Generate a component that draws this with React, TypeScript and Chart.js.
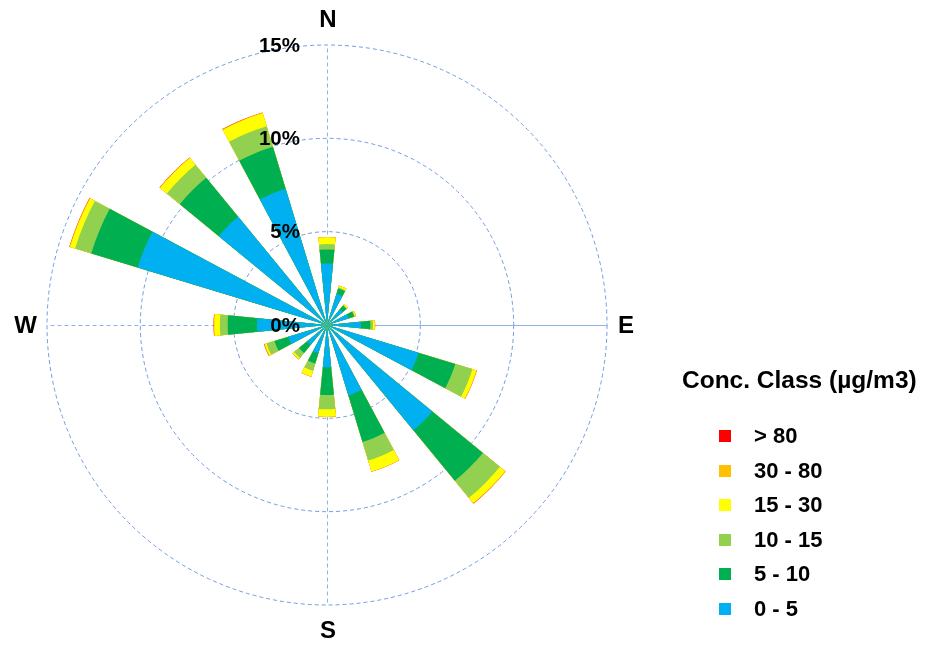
import { useEffect, useRef } from 'react';
import { Chart, registerables } from 'chart.js';

Chart.register(...registerables);

// Wind directions (16 sectors, clockwise from North)
const directions = ['N', 'NNE', 'NE', 'ENE', 'E', 'ESE', 'SE', 'SSE', 'S', 'SSW', 'SW', 'WSW', 'W', 'WNW', 'NW', 'NNW'];

// Frequency (%) per concentration class and direction
const conc0to5 = [3.30, 1.75, 1.10, 1.22, 1.82, 5.13, 7.30, 3.94, 2.27, 1.58, 1.39, 2.17, 3.75, 10.60, 7.50, 7.63];
const conc5to10 = [0.75, 0.30, 0.25, 0.30, 0.50, 2.05, 3.50, 2.61, 1.48, 0.58, 0.55, 0.77, 1.57, 2.60, 2.70, 2.35];
const conc10to15 = [0.29, 0.05, 0.03, 0.04, 0.14, 0.96, 1.18, 1.04, 0.77, 0.41, 0.34, 0.45, 0.42, 0.90, 0.90, 1.15];
const conc15to30 = [0.36, 0.10, 0.07, 0.06, 0.10, 0.22, 0.36, 0.61, 0.39, 0.31, 0.09, 0.09, 0.29, 0.28, 0.47, 0.72];
const conc30to80 = [0.02, 0.01, 0.01, 0.01, 0.02, 0.03, 0.03, 0.02, 0.02, 0.02, 0.02, 0.04, 0.04, 0.04, 0.03, 0.04];
const concAbove80 = [0.00, 0.00, 0.00, 0.00, 0.00, 0.00, 0.01, 0.00, 0.00, 0.00, 0.00, 0.01, 0.01, 0.01, 0.01, 0.01];

const classLabels = ['0 - 5', '5 - 10', '10 - 15', '15 - 30', '30 - 80', '> 80'];
const classColors = ['#00B0F0', '#00B050', '#92D050', '#FFFF00', '#FFC000', '#FF0000'];
const classSeries = [conc0to5, conc5to10, conc10to15, conc15to30, conc30to80, concAbove80];

// Radial tick values (%) and compass labels
const radialTicks = [0, 5, 10, 15];
const compassLabels = ['N', 'E', 'S', 'W'];
const legendTitle = 'Conc. Class (µg/m3)';

const FONT = '"Liberation Sans", Arial, sans-serif';
const GRID_COLOR = '#6F9BE0';
const AXIS_COLOR = '#8FB2EA';

// Each direction is followed by an empty gap sector so the wedges are half-width.
const sectorLabels = directions.flatMap((d) => [d, '']);

function cumulative(upTo: number): number[] {
  return directions.map((_, i) => {
    let s = 0;
    for (let k = 0; k <= upTo; k++) s += classSeries[k][i];
    return s;
  });
}

const roseDecor = {
  id: 'roseDecor',
  beforeDatasetsDraw(chart: any) {
    const s = chart.scales.r;
    const ctx = chart.ctx as CanvasRenderingContext2D;
    const R = s.getDistanceFromCenterForValue(s.max);
    ctx.save();
    ctx.strokeStyle = AXIS_COLOR;
    ctx.lineWidth = 1;
    compassLabels.forEach((_, i) => {
      const a = -Math.PI / 2 + (i * Math.PI) / 2;
      ctx.setLineDash(i === 1 ? [] : [4, 3]);
      ctx.beginPath();
      ctx.moveTo(s.xCenter + 0.5, s.yCenter + 0.5);
      ctx.lineTo(s.xCenter + 0.5 + R * Math.cos(a), s.yCenter + 0.5 + R * Math.sin(a));
      ctx.stroke();
    });
    ctx.restore();
  },
  afterDatasetsDraw(chart: any) {
    const s = chart.scales.r;
    const ctx = chart.ctx as CanvasRenderingContext2D;
    const R = s.getDistanceFromCenterForValue(s.max);
    ctx.save();
    ctx.fillStyle = '#000';
    // radial tick labels
    ctx.font = `bold 20.5px ${FONT}`;
    ctx.textAlign = 'right';
    ctx.textBaseline = 'middle';
    radialTicks.forEach((v) => {
      const d = s.getDistanceFromCenterForValue(v);
      ctx.fillText(`${v}%`, s.xCenter - 27, s.yCenter - d + 1);
    });
    // compass labels
    ctx.font = `bold 24px ${FONT}`;
    ctx.textAlign = 'center';
    ctx.fillText(compassLabels[0], s.xCenter + 1, s.yCenter - R - 25);
    ctx.fillText(compassLabels[2], s.xCenter + 1, s.yCenter + R + 26);
    ctx.textAlign = 'left';
    ctx.fillText(compassLabels[1], s.xCenter + R + 11, s.yCenter + 1);
    ctx.textAlign = 'right';
    ctx.fillText(compassLabels[3], s.xCenter - R - 10, s.yCenter + 1);
    ctx.restore();
  },
  afterDraw(chart: any) {
    const ctx = chart.ctx as CanvasRenderingContext2D;
    ctx.save();
    ctx.fillStyle = '#000';
    ctx.font = `bold 24.5px ${FONT}`;
    ctx.textAlign = 'left';
    ctx.textBaseline = 'middle';
    ctx.fillText(legendTitle, 682, 381);
    ctx.font = `bold 22px ${FONT}`;
    const items = chart.data.datasets.map((ds: any, i: number) => ({ label: ds.label, color: classColors[i] })).reverse();
    items.forEach((it: any, j: number) => {
      const y = 436 + j * 34.5;
      ctx.fillStyle = it.color;
      ctx.fillRect(719, Math.round(y - 6), 12, 12);
      ctx.fillStyle = '#000';
      ctx.fillText(it.label, 754, y + 1);
    });
    ctx.restore();
  },
};

export default function App() {
  const canvasRef = useRef<HTMLCanvasElement | null>(null);

  useEffect(() => {
    document.body.style.margin = '0';
    const canvas = canvasRef.current;
    if (!canvas) return;
    const datasets = classLabels.map((label, k) => {
      const cum = cumulative(k);
      return {
        label,
        data: cum.flatMap((v) => [v, 0]),
        backgroundColor: classColors[k],
        borderWidth: 0,
      };
    });
    const chart = new Chart(canvas, {
      type: 'polarArea',
      data: { labels: sectorLabels, datasets },
      options: {
        responsive: false,
        animation: false,
        layout: { padding: { left: 47, top: 45, right: 321, bottom: 40 } },
        plugins: {
          legend: { display: false },
          tooltip: { enabled: false },
        },
        scales: {
          r: {
            min: 0,
            max: 15,
            startAngle: -5.625,
            ticks: { display: false, stepSize: 5 },
            grid: { circular: true, color: GRID_COLOR, lineWidth: 1 },
            border: { dash: [4, 3] },
            angleLines: { display: false },
            pointLabels: { display: false },
          },
        },
      },
      plugins: [roseDecor],
    });
    return () => chart.destroy();
  }, []);

  return (
    <div style={{ width: 928, height: 645, background: '#fff' }}>
      <canvas ref={canvasRef} width={928} height={645} style={{ display: 'block' }} />
    </div>
  );
}
